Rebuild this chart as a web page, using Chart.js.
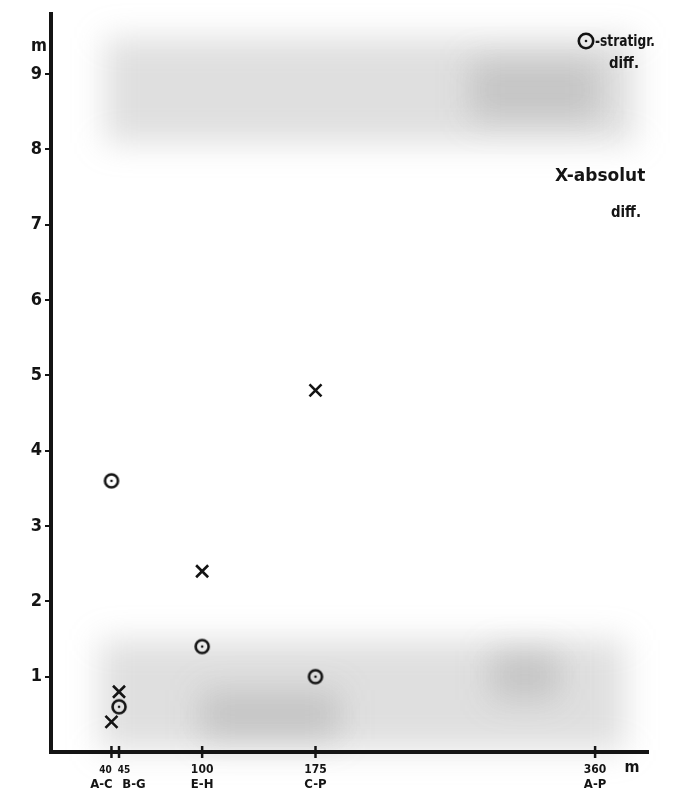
<!DOCTYPE html>
<html>
<head>
<meta charset="utf-8">
<script src="https://cdn.jsdelivr.net/npm/chart.js@4"></script>
<style>
  html, body { margin: 0; padding: 0; background: #fff; }
  #wrap { width: 693px; height: 794px; }
</style>
</head>
<body>
<div id="wrap"><canvas id="chart" width="693" height="794"></canvas></div>
<script>
// distances between profiles (m) and their pair names
const distances = [40, 45, 100, 175, 360];
const pairs = ["A-C", "B-G", "E-H", "C-P", "A-P"];
// differences (m)
const stratX = [40, 45, 100, 175];
const stratY = [3.6, 0.6, 1.4, 1.0];
const absX = [40, 45, 100, 175];
const absY = [0.4, 0.8, 2.4, 4.8];
const yTicks = [1, 2, 3, 4, 5, 6, 7, 8, 9];

const ink = "#141414";
const font = "'DejaVu Sans Condensed', 'DejaVu Sans', sans-serif";

// circle with a dot in the middle
function makeDotCircle(size, r) {
  const cv = document.createElement("canvas");
  cv.width = size; cv.height = size;
  const c = cv.getContext("2d");
  c.strokeStyle = ink; c.lineWidth = 2.6;
  c.beginPath(); c.arc(size / 2, size / 2, r, 0, Math.PI * 2); c.stroke();
  c.fillStyle = ink;
  c.beginPath(); c.arc(size / 2, size / 2, 1.3, 0, Math.PI * 2); c.fill();
  return cv;
}
const dotCircle = makeDotCircle(20, 6.5);
const legendCircle = makeDotCircle(20, 7.2);

// grey smudges of the scan
const smudges = {
  id: "smudges",
  beforeDraw(chart) {
    const ctx = chart.ctx;
    ctx.save();
    ctx.filter = "blur(16px)";
    ctx.fillStyle = "rgba(150,150,150,0.30)";
    ctx.fillRect(105, 38, 530, 105);
    ctx.fillRect(100, 640, 525, 110);
    ctx.fillStyle = "rgba(120,120,120,0.25)";
    ctx.fillRect(470, 60, 130, 60);
    ctx.fillRect(200, 690, 140, 50);
    ctx.fillRect(490, 650, 70, 50);
    ctx.filter = "none";
    ctx.restore();
  }
};

// x labels, tick marks, unit labels and legend
const extras = {
  id: "extras",
  afterDraw(chart) {
    const ctx = chart.ctx;
    const xs = chart.scales.x;
    const ys = chart.scales.y;
    const base = ys.getPixelForValue(0);
    ctx.save();
    ctx.fillStyle = ink;
    ctx.strokeStyle = ink;
    ctx.lineWidth = 2.5;
    ctx.textAlign = "center";
    ctx.textBaseline = "middle";
    distances.forEach((d, i) => {
      const px = xs.getPixelForValue(d);
      ctx.beginPath(); ctx.moveTo(px, base - 6); ctx.lineTo(px, base + 6); ctx.stroke();
      let nOff = 0, lOff = 0;
      if (i === 0) { nOff = -6; lOff = -10; }
      if (i === 1) { nOff = 5; lOff = 15; }
      ctx.font = "bold " + (i < 2 ? 10 : 12) + "px " + font;
      ctx.fillText(String(d), px + nOff, base + 18);
      ctx.font = "bold 13px " + font;
      ctx.fillText(pairs[i], px + lOff, base + 33);
    });
    ctx.font = "bold 16px " + font;
    ctx.fillText("m", xs.getPixelForValue(360) + 37, base + 16);
    ctx.font = "bold 17px " + font;
    ctx.fillText("m", 39, 47);

    // legend
    ctx.textAlign = "left";
    ctx.drawImage(legendCircle, 576, 31);
    ctx.font = "bold 15px " + font;
    ctx.fillText("-stratigr.", 595, 42, 60);
    ctx.font = "bold 15px 'DejaVu Sans', sans-serif";
    ctx.fillText("diff.", 609, 64, 30);
    ctx.font = "bold 17px 'DejaVu Sans', sans-serif";
    ctx.fillText("X-absolut", 555, 177, 95);
    ctx.font = "bold 15px 'DejaVu Sans', sans-serif";
    ctx.fillText("diff.", 611, 213, 30);
    ctx.restore();
  }
};

new Chart(document.getElementById("chart"), {
  type: "scatter",
  data: {
    datasets: [
      {
        label: "stratigr. diff.",
        data: stratX.map((x, i) => ({ x: x, y: stratY[i] })),
        pointStyle: dotCircle,
        pointRadius: 7
      },
      {
        label: "absolut diff.",
        data: absX.map((x, i) => ({ x: x, y: absY[i] })),
        pointStyle: "crossRot",
        pointRadius: 8.5,
        borderColor: ink,
        backgroundColor: ink,
        borderWidth: 2.6
      }
    ]
  },
  options: {
    responsive: false,
    animation: false,
    layout: { padding: { top: 12, right: 45, left: 0, bottom: 0 } },
    plugins: { legend: { display: false }, tooltip: { enabled: false } },
    scales: {
      x: {
        type: "linear",
        min: 0,
        max: 395,
        afterFit: s => { s.height = 42; },
        afterBuildTicks: s => { s.ticks = distances.map(v => ({ value: v })); },
        ticks: { display: false },
        grid: { display: false },
        border: { display: true, color: ink, width: 4 }
      },
      y: {
        min: 0,
        max: 9.8,
        afterFit: s => { s.width = 51; },
        afterBuildTicks: s => { s.ticks = yTicks.map(v => ({ value: v })); },
        ticks: {
          color: ink,
          padding: 3,
          font: { family: font, size: 18, weight: "bold" }
        },
        grid: { drawOnChartArea: false, tickLength: 6, color: ink, lineWidth: 2 },
        border: { display: true, color: ink, width: 4 }
      }
    }
  },
  plugins: [smudges, extras]
});
</script>
</body>
</html>
